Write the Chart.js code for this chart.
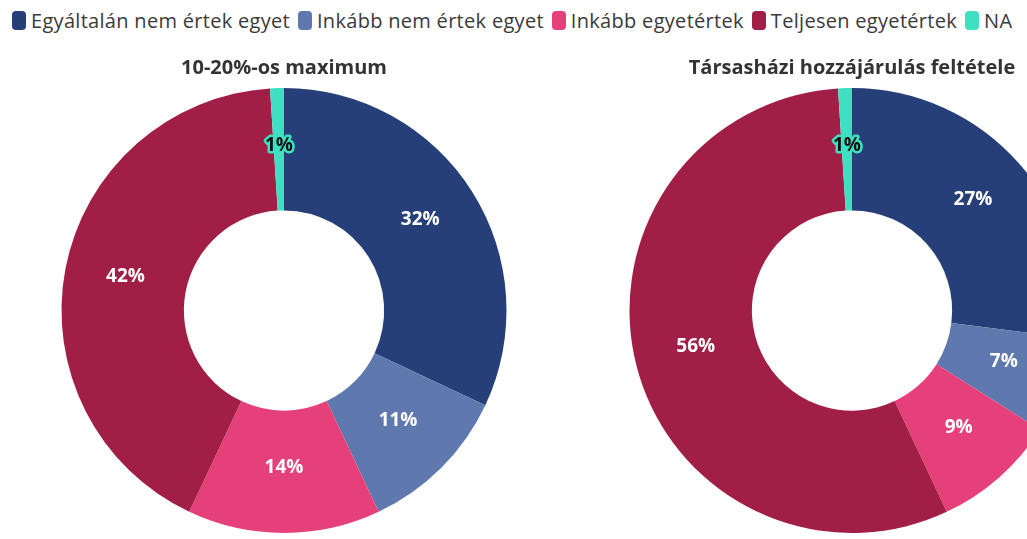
<!DOCTYPE html>
<html>
<head>
<meta charset="utf-8">
<script src="https://cdn.jsdelivr.net/npm/chart.js@4/dist/chart.umd.min.js"></script>
<style>
  html, body { margin: 0; padding: 0; background: #fff; overflow: hidden; width: 1027px; height: 539px; }
  #legend { position: absolute; left: 12px; top: 7px; white-space: nowrap; font-family: "Open Sans", sans-serif; font-size: 20px; letter-spacing: 0.3px; color: #3a3a3a; }
  #legend span.item { display: inline-flex; align-items: center; margin-right: 8px; }
  #legend span.box { display: inline-block; width: 14px; height: 19px; border-radius: 4px; margin-right: 5px; }
  .wrap { position: absolute; top: 52px; width: 568px; height: 481px; }
</style>
</head>
<body>
<div id="legend"></div>
<div class="wrap" style="left:0px"><canvas id="c1"></canvas></div>
<div class="wrap" style="left:568px"><canvas id="c2"></canvas></div>
<script>
/* ─── 資料 ─── */
const CATEGORIES = ['Egyáltalán nem értek egyet', 'Inkább nem értek egyet', 'Inkább egyetértek', 'Teljesen egyetértek', 'NA'];
const COLORS = ['#263f78', '#5f78ad', '#e5407a', '#a11e46', '#3fe0c2'];
const TITLES = ['10-20%-os maximum', 'Társasházi hozzájárulás feltétele'];
const MAXIMUM_VALUES = [32, 11, 14, 42, 1];
const HOZZAJARULAS_VALUES = [27, 7, 9, 56, 1];

/* ─── 圖例 ─── */
const legendEl = document.getElementById('legend');
CATEGORIES.forEach((c, i) => {
    const it = document.createElement('span');
    it.className = 'item';
    it.innerHTML = `<span class="box" style="background:${COLORS[i]}"></span>${c}`;
    legendEl.appendChild(it);
});

/* 扇形百分比標籤 */
const sliceLabels = {
    id: 'sliceLabels',
    afterDatasetsDraw(chart) {
        const ctx = chart.ctx;
        const meta = chart.getDatasetMeta(0);
        const data = chart.data.datasets[0].data;
        ctx.save();
        ctx.font = 'bold 19px "Open Sans", sans-serif';
        ctx.textAlign = 'center';
        ctx.textBaseline = 'middle';
        meta.data.forEach((arc, i) => {
            const p = arc.tooltipPosition();
            const y = p.y - 4;
            const txt = data[i] + '%';
            if (i === CATEGORIES.length - 1) {
                ctx.lineJoin = 'round';
                ctx.lineWidth = 5;
                ctx.strokeStyle = COLORS[i];
                ctx.strokeText(txt, p.x, y);
                ctx.fillStyle = '#111';
                ctx.fillText(txt, p.x, y);
            } else {
                ctx.fillStyle = '#fff';
                ctx.fillText(txt, p.x, y);
            }
        });
        ctx.restore();
    },
};

function donut(id, title, values) {
    return new Chart(document.getElementById(id), {
        type: 'doughnut',
        data: {
            labels: CATEGORIES,
            datasets: [{ data: values, backgroundColor: COLORS, borderWidth: 0 }],
        },
        options: {
            responsive: true,
            maintainAspectRatio: false,
            animation: false,
            cutout: '45%',
            layout: { padding: 0 },
            plugins: {
                legend: { display: false },
                tooltip: { enabled: false },
                title: {
                    display: true,
                    text: title,
                    color: '#333',
                    font: { size: 20, weight: 'bold', family: '"Open Sans", sans-serif' },
                    padding: { top: 4, bottom: 8 },
                },
            },
        },
        plugins: [sliceLabels],
    });
}

donut('c1', TITLES[0], MAXIMUM_VALUES);
donut('c2', TITLES[1], HOZZAJARULAS_VALUES);
</script>
</body>
</html>
